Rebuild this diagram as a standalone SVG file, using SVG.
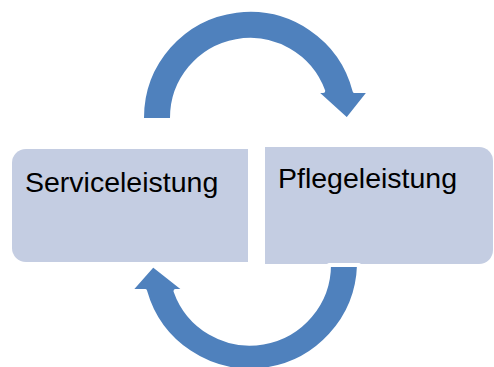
<svg xmlns="http://www.w3.org/2000/svg" width="494" height="367" viewBox="0 0 494 367">
  <style>
    .box { fill: #C4CDE2; }
    .label { font-family: "Liberation Sans", Arial, sans-serif; font-size: 28.5px; fill: #000; }
    .arrow { fill: #4F81BD; stroke: #FFFFFF; stroke-width: 4; stroke-linejoin: round; }
  </style>
  <rect width="494" height="367" fill="#FFFFFF"/>

  <g id="node-serviceleistung">
    <path class="box" d="M26,149 H248 V262 H26 A14,14 0 0 1 12,248 V163 A14,14 0 0 1 26,149 Z"/>
    <text class="label" x="25" y="192">Serviceleistung</text>
  </g>

  <g id="node-pflegeleistung">
    <path class="box" d="M265,147 H479 A14,14 0 0 1 493,161 V250 A14,14 0 0 1 479,264 H265 Z"/>
    <text class="label" x="278" y="188">Pflegeleistung</text>
  </g>

  <g id="connectors">
    <!-- upper curved arrow: Serviceleistung to Pflegeleistung -->
    <path class="arrow" d="M142,120 V118 A108,108 0 0 1 354.6,91 L370,91 L347,120 L315,91 L323.2,91 A78,78 0 0 0 172,118 V120 Z"/>
    <!-- lower curved arrow: Pflegeleistung back to Serviceleistung -->
    <path class="arrow" d="M359,265 A109,109 0 0 1 145.1,291 L130,291 L153,265 L186,291 L175.5,291 A79,79 0 0 0 329,265 Z"/>
  </g>
</svg>
